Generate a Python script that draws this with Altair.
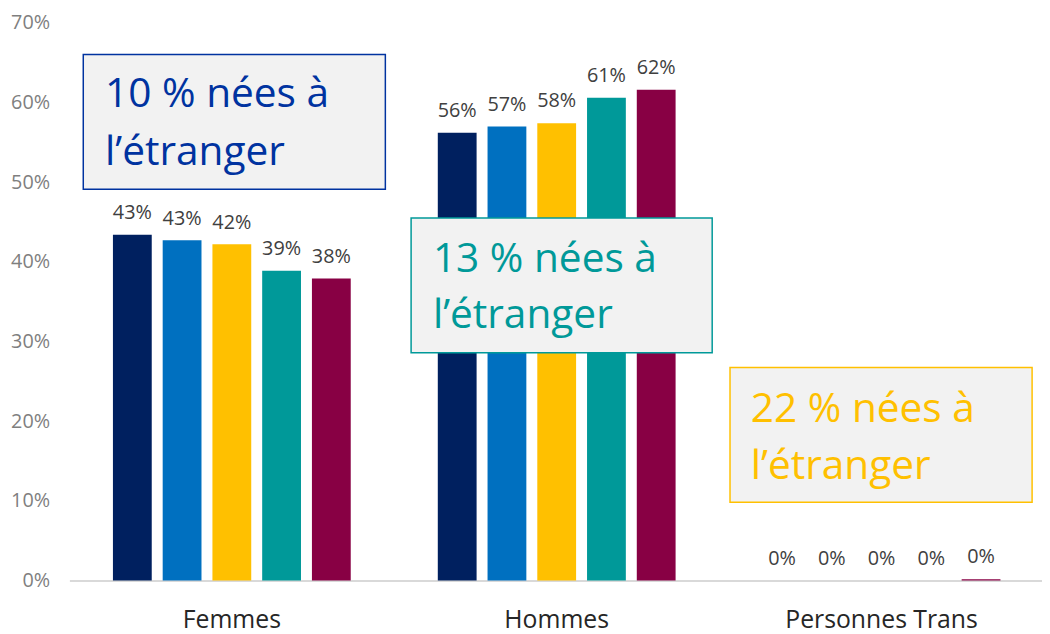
import altair as alt
import pandas as pd

categories = ["Femmes", "Hommes", "Personnes Trans"]
series = ["Série 1", "Série 2", "Série 3", "Série 4", "Série 5"]
colors = ["#00205F", "#0070C0", "#FFC000", "#009999", "#880044"]

femmes = [0.434, 0.427, 0.422, 0.389, 0.379]
hommes = [0.562, 0.570, 0.574, 0.606, 0.616]
trans = [0.0, 0.0, 0.0, 0.0, 0.0017]
values = [femmes, hommes, trans]

femmes_labels = ["43%", "43%", "42%", "39%", "38%"]
hommes_labels = ["56%", "57%", "58%", "61%", "62%"]
trans_labels = ["0%", "0%", "0%", "0%", "0%"]
labels = [femmes_labels, hommes_labels, trans_labels]

annotations = [
    (["10 % nées à", "l’étranger"], "#0033A0"),
    (["13 % nées à", "l’étranger"], "#009999"),
    (["22 % nées à", "l’étranger"], "#FFC000"),
]

rows = []
for ci, cat in enumerate(categories):
    for si, s in enumerate(series):
        rows.append({"cat": cat, "series": s, "value": values[ci][si], "label": labels[ci][si]})
df = pd.DataFrame(rows)

FONT = "Open Sans"
W, H = 970, 563

x_enc = alt.X("cat:N", sort=categories, title=None,
              scale=alt.Scale(range=[0, 984], paddingInner=0.268, paddingOuter=0.134),
              axis=alt.Axis(labelAngle=0, labelFontSize=25, labelColor="#262626", labelFont=FONT,
                            ticks=False, tickSize=0, labelPadding=47, labelBaseline="alphabetic",
                            labelLimit=500, domainColor="#D9D9D9", domainWidth=2))
xo_enc = alt.XOffset("series:N", sort=series, scale=alt.Scale(paddingInner=0.22, paddingOuter=0))
y_enc = alt.Y("value:Q", title=None,
              scale=alt.Scale(domain=[0, 0.7], nice=False),
              axis=alt.Axis(format=".0%", values=[0, 0.1, 0.2, 0.3, 0.4, 0.5, 0.6, 0.7],
                            grid=False, domain=False, ticks=False, tickSize=0, labelPadding=20,
                            labelFontSize=20, labelColor="#7F7F7F", labelFont=FONT))

base = alt.Chart(df)
bars = base.mark_bar().encode(
    x=x_enc, xOffset=xo_enc, y=y_enc,
    color=alt.Color("series:N", sort=series, scale=alt.Scale(domain=series, range=colors), legend=None),
)
texts = base.mark_text(dy=-16, baseline="alphabetic", fontSize=20, font=FONT, color="#404040").encode(
    x=alt.X("cat:N", sort=categories), xOffset=alt.XOffset("series:N", sort=series), y="value:Q", text="label:N"
)

# annotation box layout (pixels inside the plot area)
box_layout = [
    dict(x=14, x2=319, y=32, y2=168, tx=36, ty1=85, ty2=143),
    dict(x=345, x2=649, y=197, y2=333, tx=367, ty1=252, ty2=308),
    dict(x=667, x2=972, y=348, y2=484, tx=688, ty1=403, ty2=460),
]

ann_df = pd.DataFrame({"k": [0]})
layers = [bars, texts]
for (lines, col), lay in zip(annotations, box_layout):
    rect = alt.Chart(ann_df).mark_rect(fill="#F2F2F2", stroke=col, strokeWidth=1.5).encode(
        x=alt.value(lay["x"]), x2=alt.value(lay["x2"]), y=alt.value(lay["y"]), y2=alt.value(lay["y2"])
    )
    layers.append(rect)
    for line, ty in zip(lines, [lay["ty1"], lay["ty2"]]):
        t = alt.Chart(ann_df).mark_text(align="left", baseline="alphabetic", fontSize=41, font=FONT, color=col).encode(
            x=alt.value(lay["tx"]), y=alt.value(ty), text=alt.value(line)
        )
        layers.append(t)

chart = alt.layer(*layers).properties(
    width=W, height=H,
    autosize=alt.AutoSizeParams(type="none"),
    padding={"left": 62, "top": 12, "right": 12, "bottom": 56},
    view=alt.ViewBackground(stroke="transparent", strokeWidth=0, strokeOpacity=0),
).configure_view(stroke="transparent", strokeWidth=0, strokeOpacity=0).configure(font=FONT)

chart.save("out.html", embed_options={"renderer": "svg", "actions": False})
